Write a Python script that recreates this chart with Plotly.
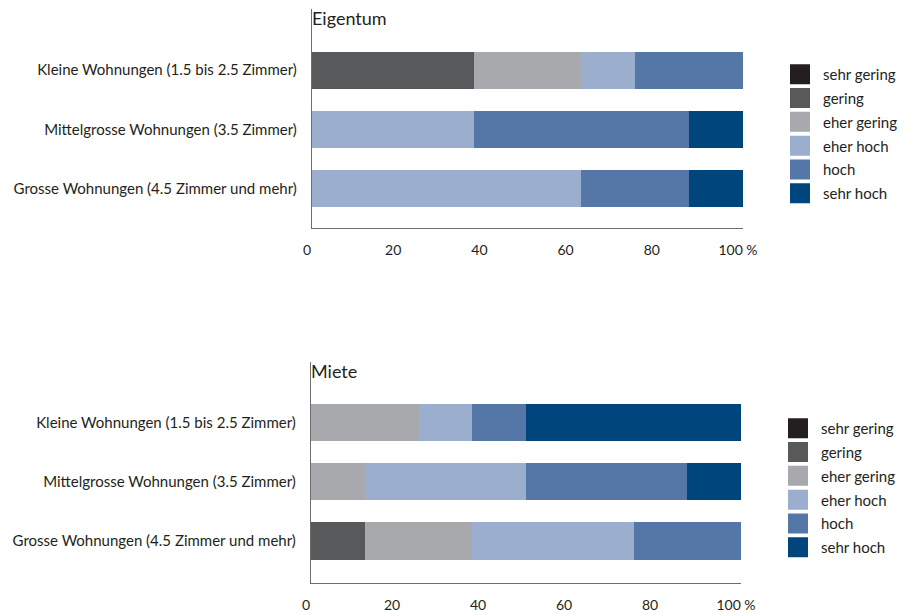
import plotly.graph_objects as go

# Housing types (bottom to top on the y axis)
wohnungen = [
    "Grosse Wohnungen (4.5 Zimmer und mehr)",
    "Mittelgrosse Wohnungen (3.5 Zimmer)",
    "Kleine Wohnungen (1.5 bis 2.5 Zimmer)",
]

# Rating levels, stacked left to right
stufen = ["sehr gering", "gering", "eher gering", "eher hoch", "hoch", "sehr hoch"]
farben = ["#231f20", "#58595b", "#a7a9ac", "#9caecd", "#5577a7", "#00457c"]

# Shares in %, order of values follows `wohnungen`
eigentum = {
    "sehr gering": [0, 0, 0],
    "gering":      [0, 0, 37.5],
    "eher gering": [0, 0, 25],
    "eher hoch":   [62.5, 37.5, 12.5],
    "hoch":        [25, 50, 25],
    "sehr hoch":   [12.5, 12.5, 0],
}
miete = {
    "sehr gering": [0, 0, 0],
    "gering":      [12.5, 0, 0],
    "eher gering": [25, 12.5, 25],
    "eher hoch":   [37.5, 37.5, 12.5],
    "hoch":        [25, 37.5, 12.5],
    "sehr hoch":   [0, 12.5, 50],
}

x_ticks = [0, 20, 40, 60, 80, 100]
x_ticktext = ["0", "20", "40", "60", "80", "100 %"]

FONT = "Lato"
TXT = "#231f20"
LINE = "#6d6e71"

fig = go.Figure()

panels = [
    ("x", "y", "legend", eigentum),
    ("x2", "y2", "legend2", miete),
]

for xa, ya, leg, daten in panels:
    for stufe, farbe in zip(stufen, farben):
        fig.add_trace(go.Bar(
            y=wohnungen, x=daten[stufe], orientation="h",
            marker=dict(color=farbe, line=dict(width=0)),
            width=0.63, xaxis=xa, yaxis=ya, showlegend=False,
            name=stufe, hoverinfo="x+name",
        ))
    # legend entries drawn as large squares
    for stufe, farbe in zip(stufen, farben):
        fig.add_trace(go.Scatter(
            x=[None], y=[None], mode="markers", name=stufe,
            marker=dict(symbol="square", size=16, color=farbe,
                        line=dict(color=farbe, width=4)),
            xaxis=xa, yaxis=ya, legend=leg, legendgroup=leg + stufe,
            showlegend=True,
        ))

xcommon = dict(
    range=[0, 100], tickvals=x_ticks, ticktext=x_ticktext,
    showline=True, linecolor=LINE, linewidth=1.3, showgrid=False,
    zeroline=False, ticks="", ticklabelstandoff=9, ticklabelshift=-5,
    automargin=False, fixedrange=True,
    tickfont=dict(family=FONT, size=14, color=TXT),
)
ycommon = dict(
    type="category", categoryorder="array", categoryarray=wohnungen,
    showline=True, linecolor=LINE, linewidth=1.3, showgrid=False,
    zeroline=False, ticks="", ticklabelstandoff=11,
    automargin=False, fixedrange=True,
    tickfont=dict(family=FONT, size=15, color=TXT),
)

legcommon = dict(
    font=dict(family=FONT, size=15, color=TXT), bgcolor="rgba(0,0,0,0)",
    borderwidth=0, xanchor="left", yanchor="top", traceorder="grouped",
    tracegroupgap=1.3, itemwidth=36, itemclick=False, itemdoubleclick=False,
)

fig.update_layout(
    width=913, height=613, autosize=False,
    margin=dict(l=0, r=0, t=0, b=0),
    paper_bgcolor="white", plot_bgcolor="white",
    barmode="stack", bargap=0,
    font=dict(family=FONT, color=TXT),
    xaxis=dict(domain=[312 / 913, 743 / 913], anchor="y", **xcommon),
    yaxis=dict(domain=[385 / 613, 604 / 613], anchor="x",
               range=[-0.67, 3.034], **ycommon),
    xaxis2=dict(domain=[311 / 913, 741 / 913], anchor="y2", **xcommon),
    yaxis2=dict(domain=[30 / 613, 251 / 613], anchor="x2",
                range=[-0.709, 3.021], **ycommon),
    legend=dict(x=777 / 913, y=(613 - 58) / 613, **legcommon),
    legend2=dict(x=775 / 913, y=(613 - 412) / 613, **legcommon),
    annotations=[
        dict(text="Eigentum", xref="paper", yref="paper",
             x=310 / 913, y=(613 - 18) / 613, xanchor="left", yanchor="middle",
             showarrow=False, font=dict(family=FONT, size=18, color=TXT)),
        dict(text="Miete", xref="paper", yref="paper",
             x=309 / 913, y=(613 - 371) / 613, xanchor="left", yanchor="middle",
             showarrow=False, font=dict(family=FONT, size=18, color=TXT)),
    ],
)

fig.write_html("out.html")
